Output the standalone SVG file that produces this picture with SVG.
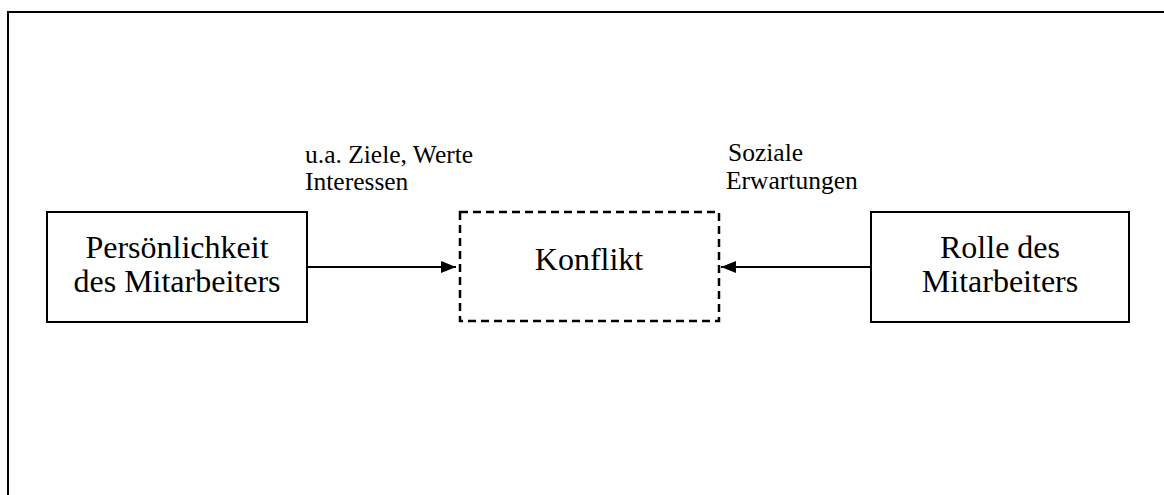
<svg xmlns="http://www.w3.org/2000/svg" width="1164" height="495" viewBox="0 0 1164 495">
<defs>
<style>
.box{fill:#fff;stroke:#000;stroke-width:2}
.dash{fill:none;stroke:#000;stroke-width:2.5;stroke-dasharray:8,5}
.t{font-family:"Liberation Serif","Times New Roman",serif;fill:#000}
.big{font-size:32px;text-anchor:middle}
.small{font-size:25.5px}
.edge{stroke:#000;stroke-width:2;fill:none}
</style>
<marker id="ah" viewBox="0 0 15 12" refX="15" refY="6" markerWidth="15" markerHeight="12" markerUnits="userSpaceOnUse" orient="auto">
<path d="M0,0 L15,6 L0,12 Z" fill="#000"/>
</marker>
</defs>
<rect width="1164" height="495" fill="#fff"/>
<rect x="8" y="12" width="1170" height="500" fill="none" stroke="#000" stroke-width="2"/>
<g id="connectors">
<line class="edge" x1="307" y1="267" x2="456" y2="267" marker-end="url(#ah)"/>
<line class="edge" x1="871" y1="267" x2="721" y2="267" marker-end="url(#ah)"/>
</g>
<g id="labels">
<text class="t small" x="305" y="163">u.a. Ziele, Werte</text>
<text class="t small" x="305" y="190">Interessen</text>
<text class="t small" x="728" y="161">Soziale</text>
<text class="t small" x="726" y="189">Erwartungen</text>
</g>
<g id="persoenlichkeit">
<rect class="box" x="47" y="212" width="260" height="110"/>
<text class="t big" x="177" y="258">Persönlichkeit</text>
<text class="t big" x="177" y="292">des Mitarbeiters</text>
</g>
<g id="konflikt">
<rect class="dash" x="460" y="212" width="259" height="109"/>
<text class="t big" x="589" y="270">Konflikt</text>
</g>
<g id="rolle">
<rect class="box" x="871" y="212" width="258" height="110"/>
<text class="t big" x="1000" y="258">Rolle des</text>
<text class="t big" x="1000" y="292">Mitarbeiters</text>
</g>
</svg>
